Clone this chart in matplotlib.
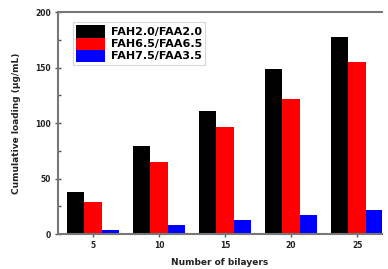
import matplotlib
matplotlib.use("Agg")
import matplotlib.pyplot as plt
import numpy as np

bilayers = ["5", "10", "15", "20", "25"]
fah20 = [38, 79.5, 111, 148.5, 177.5]
fah65 = [29, 64.5, 96.5, 122, 155]
fah75 = [4, 8, 13, 17, 21.5]
labels = ["FAH2.0/FAA2.0", "FAH6.5/FAA6.5", "FAH7.5/FAA3.5"]
colors = ["#000000", "#ff0000", "#0000ff"]

fig = plt.figure(figsize=(3.88, 2.69), dpi=100)
ax = fig.add_axes([0.149, 0.13, 0.836, 0.825])

x = np.arange(len(bilayers))
w = 0.265
for i, (vals, lab, c) in enumerate(zip([fah20, fah65, fah75], labels, colors)):
    ax.bar(x + (i - 1) * w, vals, width=w, color=c, label=lab)

ax.set_xlim(-0.535, 4.38)
ax.set_ylim(0, 200)
ax.set_xticks(x)
ax.set_xticklabels(bilayers)
ax.set_yticks([0, 50, 100, 150, 200])
ax.yaxis.set_minor_locator(matplotlib.ticker.MultipleLocator(25))
ax.tick_params(axis="both", which="major", labelsize=5.5, direction="inout", length=4, width=1,
               pad=3, colors="#555555", labelcolor="#222222")
ax.tick_params(axis="y", which="minor", direction="in", length=2.5, width=1, colors="#555555")
for lbl in ax.get_xticklabels() + ax.get_yticklabels():
    lbl.set_fontweight("bold")
for s in ax.spines.values():
    s.set_color("#777777")
    s.set_linewidth(1.5)
ax.spines["right"].set_visible(False)

ax.set_xlabel("Number of bilayers", fontsize=6.5, fontweight="bold", labelpad=6, color="#222222")
ax.set_ylabel("Cumulative loading (\u03bcg/mL)", fontsize=6.5, fontweight="bold", labelpad=10, color="#222222")

leg = ax.legend(loc="upper left", prop={"weight": "bold", "size": 8},
                handlelength=2.6, handleheight=1.3, labelspacing=0.0,
                borderpad=0.3, handletextpad=0.5, fancybox=False,
                bbox_to_anchor=(0.03, 0.98))
leg.get_frame().set_edgecolor("#cccccc")
leg.get_frame().set_linewidth(0.8)

fig.savefig("out.png", dpi=100)
